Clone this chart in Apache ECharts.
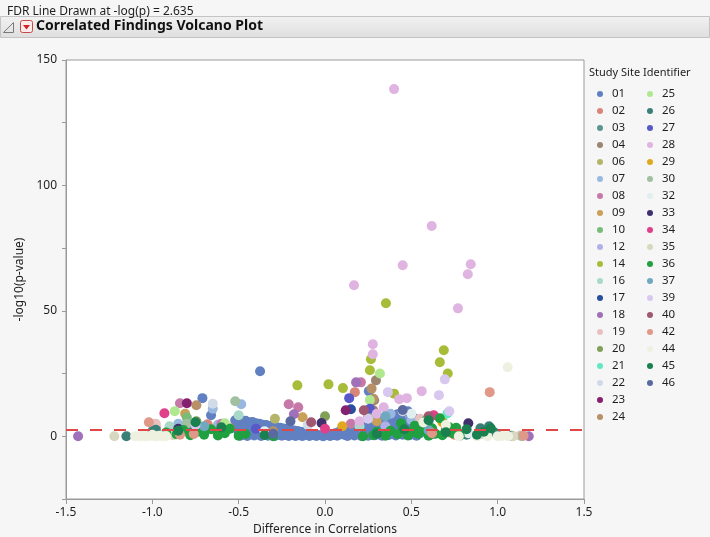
<!DOCTYPE html>
<html><head><meta charset="utf-8">
<script src="https://cdn.jsdelivr.net/npm/echarts@6/dist/echarts.min.js"></script>
<style>html,body{margin:0;padding:0;background:#f6f6f6}#c{width:710px;height:537px}</style>
</head><body><div id="c"></div>
<script>
// ---------------- data ----------------
const fdrThreshold = 2.635;
const yTickLabels = [0, 50, 100, 150];
const siteIds = ['01','02','03','04','06','07','08','09','10','12','14','16','17','18','19','20','21','22','23','24',
                 '25','26','27','28','29','30','32','33','34','35','36','37','39','40','42','44','45','46'];

const s01 = [
  [-0.52,6.4],[-0.5,6.8],[-0.48,6.0],[-0.46,6.2],[-0.44,5.6],[-0.42,5.7],[-0.4,5.2],[-0.38,5.0],[-0.36,4.6],[-0.34,4.5],[-0.32,4.1],[-0.3,3.9],[-0.28,3.6],[-0.26,3.4],[-0.24,3.1],[-0.22,2.9],[-0.2,2.6],[-0.18,2.3],[-0.16,2.1],[-0.14,1.8],[-0.12,1.6],[-0.1,1.3],[-0.08,1.0],[-0.06,0.8],[-0.04,0.5],[-0.02,0.3],
  [-0.51,4.0],[-0.47,3.7],[-0.43,3.4],[-0.39,3.1],[-0.35,2.8],[-0.31,2.5],[-0.27,2.1],[-0.23,1.8],[-0.19,1.5],[-0.15,1.2],[-0.11,0.9],[-0.07,0.6],
  [-0.5,1.6],[-0.46,1.4],[-0.42,1.2],[-0.38,1.1],[-0.34,0.9],[-0.3,0.8],[-0.26,0.6],[-0.22,0.5],[-0.18,0.4],[-0.14,0.3],
  [-0.49,0.2],[-0.45,0.1],[-0.41,0.3],[-0.37,0.1],[-0.33,0.2],[-0.29,0.1],[-0.25,0.2],[-0.21,0.1],[-0.17,0.1],[-0.13,0.1],[-0.09,0.1],[-0.05,0.1],[-0.01,0.0],
  [0.02,0.4],[0.04,0.8],[0.06,1.2],[0.08,1.7],[0.1,2.1],[0.12,2.5],[0.14,2.9],[0.16,3.4],[0.18,3.8],[0.2,4.2],[0.22,4.6],[0.24,5.0],[0.26,5.5],[0.28,5.9],[0.3,6.3],[0.32,6.7],[0.34,7.1],[0.36,7.6],[0.38,8.0],[0.4,8.4],[0.42,8.8],[0.44,9.2],[0.46,9.7],[0.48,10.0],[0.5,8.6],[0.52,7.0],[0.54,5.0],[0.56,3.0],
  [0.05,0.6],[0.09,1.1],[0.13,1.6],[0.17,2.2],[0.21,2.7],[0.25,3.2],[0.29,3.7],[0.33,4.3],[0.37,4.8],[0.41,5.3],[0.45,5.9],[0.49,6.2],[0.53,4.0],
  [0.11,0.6],[0.15,0.9],[0.19,1.2],[0.23,1.5],[0.27,1.8],[0.31,2.1],[0.35,2.4],[0.39,2.7],[0.43,3.0],[0.47,3.3],[0.51,2.4],[0.55,1.2],
  [0.03,0.1],[0.07,0.2],[0.13,0.1],[0.17,0.3],[0.21,0.1],[0.25,0.2],[0.29,0.4],[0.33,0.2],[0.37,0.5],[0.41,0.3],[0.45,0.6],[0.49,0.4],[0.53,0.2],
  [-0.376,25.9],[-0.71,15.2],[-0.66,8.4],[0.254,18],[0.266,14.4]];
const s02 = [[0.173,17.6],[-0.78,1.6],[-0.68,4.8],[-0.55,3.2],[-0.98,3.5],[0.72,1.5],[0.25,8],[0.75,0.6],[-0.84,4.2],[-0.62,0.6],[-0.88,1.2],[-0.72,2.6]];
const s03 = [[-0.9,2],[0.62,0.8],[0.55,3]];
const s04 = [[0.295,22.3],[0.285,14.4],[0.28,10.4],[-0.6,3.5]];
const s06 = [[-0.29,7],[-0.8,2],[0.6,2]];
const s07 = [[-0.65,11],[-0.485,12.8],[0.5,6.5],[-0.85,5],[0.38,9],[-0.62,4.6]];
const s08 = [[0.208,21.5],[-0.84,13.2],[-0.21,12.8],[-0.155,11.6],[0.15,5],[-0.6,5],[-0.9,3.0]];
const s09 = [[-0.81,9],[-0.13,7.6],[0.3,6],[0.7,2.8]];
const s10 = [[-0.8,7.5],[0.27,9],[-0.7,1.2]];
const s12 = [[-0.75,5],[0.35,4]];
const s14 = [[0.353,53],[0.688,34.3],[0.665,29.5],[0.711,25],[0.266,30.7],[0.26,26.3],[0.104,19.2],[0.40,17],[-0.16,20.3],[0.02,20.7]];
const s16 = [[-0.5,8.4],[-0.9,4],[0.2,4]];
const s17 = [[0.15,10.8],[-0.6,2]];
const s18 = [[-1.43,0],[1.18,0],[0.18,21.5],[-0.18,8.8]];
const s19 = [[-0.98,5],[1.13,0.3],[0.55,7],[-0.7,3.8]];
const s20 = [[-0.745,6.0],[0.0,8]];
const s21 = [[0.71,9.2],[0.68,7.0]];
const s22 = [[-0.65,13],[0.45,10],[-0.1,4.5]];
const s23 = [[-0.80,13.2],[0.12,10.4]];
const s24 = [[-0.745,12.4],[0.27,19],[0.28,15],[-0.3,2],[0.6,4]];
const s25 = [[0.318,25],[-0.87,10],[-0.58,5.2],[0.26,14.5],[-0.76,1.0]];
const s26 = [[-1.15,0],[-0.98,2.6],[-0.9,1.0],[-0.8,3.2],[0.82,0.6],[0.9,3.2],[0.95,4.0],[0.98,1.6],[1.02,0.4],[1.08,0.2],[-0.62,1.4],[-1.0,2.0]];
const s27 = [[0.14,15.2],[0.26,11],[-0.4,3]];
const s28 = [[0.40,138.4],[0.618,83.8],[0.45,68.2],[0.844,68.6],[0.827,64.6],[0.77,51],[0.168,60.2],[0.277,36.7],[0.277,32.7],[0.56,18],[0.43,14.8],[0.474,15.2],[0.34,11.6],[0.3,9],[0.2,6],[0.6,6]];
const s29 = [[0.68,5.6],[0.1,4]];
const s30 = [[-0.52,14],[1.14,0],[0.9,0.8],[-0.7,2.2],[-0.8,5.0]];
const s32 = [[0.83,1.2],[0.5,9],[-0.35,2]];
const s33 = [[0.83,5.2],[-0.02,5.3],[-0.85,3]];
const s34 = [[-0.93,9.2],[0.63,8.4],[0.0,3]];
const s35 = [[-1.22,0],[1.09,0],[-0.88,0.4],[0.6,3.5]];
const s36 = [[-0.92,1.5],[-0.86,0.8],[-0.82,2.5],[-0.78,0.4],[-0.74,1.8],[-0.7,0.6],[-0.66,2.8],[-0.62,0.3],[-0.58,1.2],[-0.55,3.0],[-0.5,0.2],[-0.46,0.9],[-0.3,0.0],[0.22,0.0],[0.28,0.4],[0.3,1.8],[0.35,0.2],[0.38,2.2],[0.42,0.8],[0.45,3.0],[0.48,0.3],[0.5,1.6],[0.52,4.2],[0.54,0.9],[0.57,2.4],[0.6,0.2],[0.62,3.2],[0.64,1.0],[0.665,7.2],[0.68,0.4],[0.7,2.2],[0.72,3.6],[0.74,1.2],[0.76,3.4],[0.78,0.2],[0.58,6.0],[0.44,5.2]];
const s37 = [[0.6,2.4],[-0.7,4],[0.35,8]];
const s39 = [[0.694,22.7],[0.66,16.4],[0.364,17.6],[0.72,10],[0.25,7],[-0.75,4.5]];
const s40 = [[-0.08,5.6],[0.225,10.4],[0.6,8]];
const s42 = [[0.954,17.6],[1.15,0.2],[0.62,1.2],[-0.76,0.9],[-1.02,5.6],[-0.84,0.6]];
const s44 = [[-1.1,0],[-1.07,0],[-1.05,0.1],[-1.03,0],[-1.0,0.1],[-0.98,0],[-0.96,0.2],[-0.94,0],[-0.92,0.1],[-1.06,0.5],[-1.0,0.6],[0.775,0],[0.88,0],[0.94,0],[1.0,0],[1.06,0],[1.03,0.2],[1.058,27.5],[0.7,4.5],[0.57,5.5]];
const s45 = [[-0.85,2.2],[-0.6,3.6],[-0.75,5.6],[-0.35,0.5],[0.3,1.0],[0.46,2.8],[0.6,6.4],[0.7,1.6],[0.82,2.8],[0.88,0.6],[0.92,1.8],[0.96,3.2]];
const s46 = [[0.45,10.5],[-0.3,1],[-0.2,6]];

const siteData = [s01,s02,s03,s04,s06,s07,s08,s09,s10,s12,s14,s16,s17,s18,s19,s20,s21,s22,s23,s24,
                  s25,s26,s27,s28,s29,s30,s32,s33,s34,s35,s36,s37,s39,s40,s42,s44,s45,s46];

// ---------------- styles ----------------
const siteColors = ['#6080c2','#d9857a','#5a9590','#9c8670','#b5b56a','#98b8e0','#c678a8','#c8a058','#78bc78','#b0b0e8',
                    '#a8bc3a','#a8d8c8','#2a4e9e','#a070b8','#e8c0c0','#80a058','#60e8c0','#d0dae8','#842070','#b89068',
                    '#b0e890','#3a8078','#5858c8','#e0b4e0','#e0a820','#a0c0a0','#e0eef0','#40306e','#e0408a','#d8d8c0',
                    '#20a040','#70a8c0','#d8c8f0','#a05870','#e09888','#eef0e0','#1a8050','#5a6aa0'];
const FONT = 'Noto Sans';
const TXT = '#1e1e1e';

const series = [{
  type: 'scatter', name: 'FDR', data: [], z: 1,
  markLine: {
    silent: true, symbol: 'none', label: { show: false }, animation: false,
    lineStyle: { color: '#e04848', type: [12, 12], width: 2 },
    data: [{ yAxis: fdrThreshold }]
  }
}];
siteIds.forEach((id, i) => {
  series.push({
    type: 'scatter', name: id, data: siteData[i], symbolSize: 10, z: 2,
    itemStyle: { color: siteColors[i], opacity: 1 }
  });
});

const legendCommon = {
  orient: 'vertical', top: 87, padding: 0, icon: 'circle', itemWidth: 14, itemHeight: 6, itemGap: 3,
  selectedMode: false,
  textStyle: { fontFamily: FONT, fontSize: 11.5, color: TXT, lineHeight: 14 }
};

const chart = echarts.init(document.getElementById('c'), null, { renderer: 'canvas' });
chart.setOption({
  animation: false,
  backgroundColor: '#f6f6f6',
  title: [
    { text: 'FDR Line Drawn at -log(p) = 2.635', left: 2, top: 1,
      textStyle: { fontFamily: FONT, fontSize: 12, fontWeight: 'normal', color: TXT } },
    { text: 'Study Site Identifier', left: 589, top: 67, padding: 0,
      textStyle: { fontFamily: FONT, fontSize: 11, fontWeight: 'normal', color: TXT } }
  ],
  graphic: [
    { type: 'rect', shape: { x: 0.5, y: 16.5, width: 709, height: 21 },
      style: { fill: new echarts.graphic.LinearGradient(0, 0, 0, 1, [{offset: 0, color: '#f2f2f2'}, {offset: 1, color: '#dedede'}]), stroke: '#c4c4c4', lineWidth: 1 } },
    { type: 'polygon', shape: { points: [[13.5, 22.5], [13.5, 32.5], [3.5, 32.5]] },
      style: { fill: 'none', stroke: '#7a7a7a', lineWidth: 1 } },
    { type: 'rect', shape: { x: 20.5, y: 20.5, width: 12, height: 12, r: 2 },
      style: { fill: '#fbeaea', stroke: '#c84848', lineWidth: 1 } },
    { type: 'polygon', shape: { points: [[23, 25], [30, 25], [26.5, 29.5]] },
      style: { fill: '#d42020' } },
    { type: 'text', left: 36, top: 19,
      style: { text: 'Correlated Findings Volcano Plot', font: 'bold 14px "Noto Sans"', fill: '#111' } }
  ],
  legend: [
    Object.assign({ left: 597, data: siteIds.slice(0, 20) }, legendCommon),
    Object.assign({ left: 647, data: siteIds.slice(20) }, legendCommon)
  ],
  grid: { left: 66, right: 126, top: 60, bottom: 38, outerBoundsMode: 'none', containLabel: false,
          show: true, backgroundColor: '#ffffff', borderColor: '#9a9a9a', borderWidth: 1 },
  xAxis: {
    type: 'value', min: -1.5, max: 1.5, interval: 0.5,
    name: 'Difference in Correlations', nameLocation: 'middle', nameGap: 24,
    nameTextStyle: { fontFamily: FONT, fontSize: 12, color: TXT },
    axisLine: { show: true, onZero: false, lineStyle: { color: '#9a9a9a' } },
    axisTick: { show: true, length: 5, lineStyle: { color: '#9a9a9a' } },
    axisLabel: { fontFamily: FONT, fontSize: 12, color: TXT, margin: 8, formatter: v => v.toFixed(1) },
    splitLine: { show: false }
  },
  yAxis: {
    type: 'value', min: -25, max: 150, interval: 25,
    name: '-log10(p-value)', nameLocation: 'middle', nameGap: 32,
    nameTextStyle: { fontFamily: FONT, fontSize: 12, color: TXT },
    axisLine: { show: true, onZero: false, lineStyle: { color: '#9a9a9a' } },
    axisTick: { show: true, length: 4, lineStyle: { color: '#9a9a9a' } },
    axisLabel: { fontFamily: FONT, fontSize: 12, color: TXT, margin: 9,
      formatter: v => (yTickLabels.indexOf(v) >= 0 ? String(v) : '') },
    splitLine: { show: false }
  },
  series: series
});
</script></body></html>
